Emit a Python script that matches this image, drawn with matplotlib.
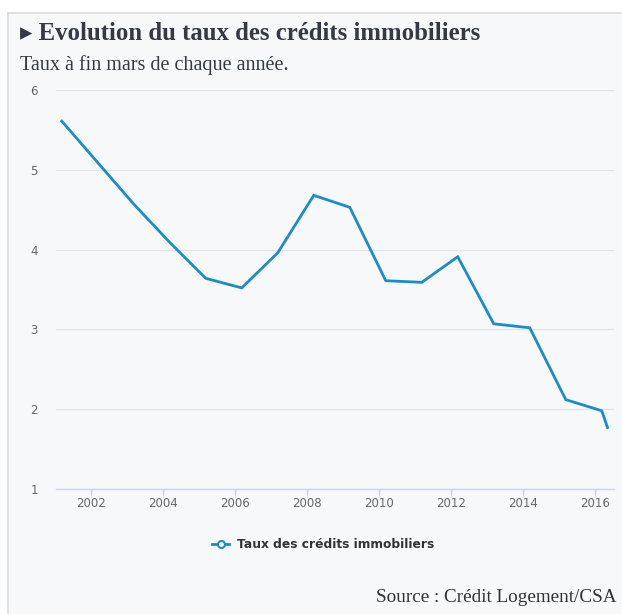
import matplotlib.pyplot as plt
from matplotlib.patches import Rectangle
from matplotlib.lines import Line2D

# taux à fin mars
years = [2001.19, 2002.19, 2003.19, 2004.19, 2005.19, 2006.19, 2007.19, 2008.19,
         2009.19, 2010.19, 2011.19, 2012.19, 2013.19, 2014.19, 2015.19, 2016.19, 2016.35]
rates = [5.61, 5.09, 4.57, 4.09, 3.64, 3.52, 3.96, 4.68,
         4.53, 3.61, 3.59, 3.91, 3.07, 3.02, 2.12, 1.98, 1.77]
xticks = [2002, 2004, 2006, 2008, 2010, 2012, 2014, 2016]
yticks = [1, 2, 3, 4, 5, 6]

blue = '#1a8dc8'
bg = '#f7f8fa'

fig = plt.figure(figsize=(6.22, 6.14), dpi=100)
fig.patch.set_facecolor('white')

# cadre du bloc
frame = Rectangle((8/622, -0.1), 1.2, 1.1 - 13/614, transform=fig.transFigure,
                  facecolor=bg, edgecolor='#d8dade', linewidth=1.2, zorder=-1)
fig.patches.append(frame)

ax = fig.add_axes([56/622, 1 - 489/614, (614 - 56)/622, (489 - 90)/614])
ax.set_facecolor('none')
ax.plot(years, rates, color=blue, linewidth=2, solid_joinstyle='miter')

ax.set_xlim(2001.03, 2016.53)
ax.set_ylim(1, 6)
ax.set_xticks(xticks)
ax.set_yticks(yticks)
ax.grid(axis='y', color='#e3e4e6', linewidth=1)
ax.set_axisbelow(True)
for s in ['top', 'right', 'left']:
    ax.spines[s].set_visible(False)
ax.spines['bottom'].set_color('#ccd6eb')
ax.spines['bottom'].set_linewidth(1)
ax.tick_params(axis='x', length=6, width=1, color='#ccd6eb', labelsize=8.5,
               labelcolor='#666666', pad=0)
ax.tick_params(axis='y', length=0, labelsize=8.5, labelcolor='#666666', pad=13)

fig.text(20/622, 1 - 33/614, '\u25b8 Evolution du taux des crédits immobiliers',
         family=['Liberation Serif', 'DejaVu Sans'], fontweight='bold', fontsize=17.8,
         color='#333a45', va='center', ha='left')
fig.text(20/622, 1 - 65/614, 'Taux à fin mars de chaque année.',
         family=['Liberation Serif'], fontsize=14.5, color='#333a45',
         va='center', ha='left')
fig.text(617/622, 1 - 598/614, 'Source : Crédit Logement/CSA',
         family=['Liberation Serif'], fontsize=13.8, color='#333333',
         va='center', ha='right')

handle = Line2D([], [], color=blue, linewidth=2, marker='o', markersize=5,
                markerfacecolor='white', markeredgecolor=blue, markeredgewidth=1.5)
leg = fig.legend([handle], ['Taux des crédits immobiliers'], loc='center',
                 bbox_to_anchor=(323/622, 1 - 545/614), frameon=False,
                 handlelength=1.4, handletextpad=0.6,
                 prop={'weight': 'bold', 'size': 8.8})
for t in leg.get_texts():
    t.set_color('#333333')

fig.savefig('out.png', dpi=100, facecolor=fig.get_facecolor())
